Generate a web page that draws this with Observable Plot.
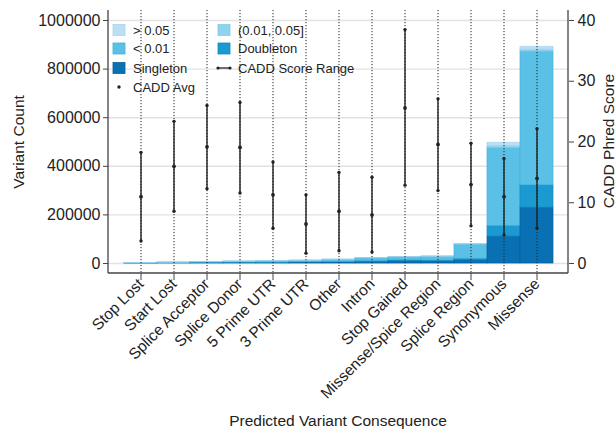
<!DOCTYPE html>
<html><head><meta charset="utf-8">
<script src="https://cdn.jsdelivr.net/npm/d3@7"></script>
<script src="https://cdn.jsdelivr.net/npm/@observablehq/plot@0.6"></script>
<style>body{margin:0;background:#fff} svg{display:block}</style>
</head><body><div id="chart"></div>
<script>
const categories = ["Stop Lost","Start Lost","Splice Acceptor","Splice Donor","5 Prime UTR","3 Prime UTR","Other","Intron","Stop Gained","Missense/Spice Region","Splice Region","Synonymous","Missense"];
const singleton = [800,1500,2800,3200,3200,4000,5000,7000,10000,9000,14000,111000,230000];
const doubleton = [300,500,900,1000,1200,1500,2000,2800,3500,3500,6000,44000,92000];
const rareLt001 = [800,1800,3000,3500,4200,6000,8400,11600,12000,15500,58000,320000,550000];
const freq001to005 = [50,100,150,150,200,250,300,300,250,500,1000,8000,8000];
const freqGt005 = [50,100,150,150,200,250,300,300,250,500,1000,14000,12000];
const caddMin = [3.7,8.6,12.3,11.6,5.8,1.7,2.1,1.9,12.9,12.0,6.2,4.7,5.8];
const caddAvg = [11.0,16.0,19.2,19.1,11.3,6.5,8.6,8.0,25.6,19.6,13.0,11.0,14.0];
const caddMax = [18.3,23.4,26.0,26.5,16.7,11.3,15.0,14.2,38.5,27.1,19.8,17.3,22.2];
const countTicks = [0,200000,400000,600000,800000,1000000];
const caddTicks = [0,10,20,30,40];
const layers = ["Singleton","Doubleton","< 0.01","(0.01, 0.05]","> 0.05"];
const layerColors = ["#0a70b4","#1b9ad2","#5bc0e6","#8fd3ef","#bcdff3"];
const layerStrokes = ["#08609c","#1589bd","#3fb3df","#7ccbea","#a9d5ee"];
const CADD_TO_COUNT = 25000; // right axis 40 <-> left axis 1,000,000

const layerArrays = [singleton,doubleton,rareLt001,freq001to005,freqGt005];
const tidy = [];
categories.forEach((c,i)=>layerArrays.forEach((arr,j)=>tidy.push({cat:c, layer:layers[j], value:arr[i]})));
const cadd = categories.map((c,i)=>({cat:c, min:caddMin[i], avg:caddAvg[i], max:caddMax[i]}));

const font = "'Liberation Sans', Arial, Helvetica, sans-serif";
const ink = "#222";
const W = 615, H = 429, mL = 108, mR = 47, mT = 10, mB = 156;

const plot = Plot.plot({
  width: W, height: H, marginLeft: mL, marginRight: mR, marginTop: mT, marginBottom: mB,
  style: {fontFamily: font, fontSize: "16px", color: ink, background: "white"},
  x: {type: "band", domain: categories, paddingInner: 0, paddingOuter: 0.29, label: null},
  y: {domain: [-41150, 1041150], label: null},
  color: {domain: layers, range: layerColors},
  marks: [
    Plot.gridY(countTicks, {stroke: "#e2e2e2", strokeOpacity: 1, strokeWidth: 1.4}),
    Plot.barY(tidy, Plot.stackY({x: "cat", y: "value", fill: "layer", order: layers,
      stroke: d => layerStrokes[layers.indexOf(d.layer)], strokeWidth: 0.7, inset: 0})),
    Plot.ruleX(categories, {stroke: ink, strokeDasharray: "1.2,1.8", strokeWidth: 1}),
    Plot.ruleX(cadd, {x: "cat", y1: d => d.min * CADD_TO_COUNT, y2: d => d.max * CADD_TO_COUNT, stroke: ink, strokeWidth: 1.4}),
    Plot.dot(cadd, {x: "cat", y: d => d.min * CADD_TO_COUNT, r: 1.7, fill: ink, stroke: "none"}),
    Plot.dot(cadd, {x: "cat", y: d => d.max * CADD_TO_COUNT, r: 1.7, fill: ink, stroke: "none"}),
    Plot.dot(cadd, {x: "cat", y: d => d.avg * CADD_TO_COUNT, r: 1.9, fill: ink, stroke: "none"}),
    Plot.axisY(countTicks, {anchor: "left", tickSize: 5, tickPadding: 3, tickFormat: d => String(d), stroke: "#444", label: null}),
    Plot.axisY(caddTicks.map(v => v * CADD_TO_COUNT), {anchor: "right", tickSize: 5, tickPadding: 4, tickFormat: d => String(d / CADD_TO_COUNT), stroke: "#444", label: null}),
    Plot.axisX({anchor: "bottom", tickRotate: -45, tickSize: 7, tickPadding: 1, fontSize: 15.5, stroke: "#444", label: null})
  ]
});

const svg = d3.select(plot);
const yB = H - mB, xL = mL, xR = W - mR;
// frame lines (left, right, bottom)
const frame = svg.append("g").attr("stroke", "#444").attr("stroke-width", 1.3);
frame.append("line").attr("x1", xL).attr("x2", xL).attr("y1", mT).attr("y2", yB);
frame.append("line").attr("x1", xR).attr("x2", xR).attr("y1", mT).attr("y2", yB);
frame.append("line").attr("x1", xL).attr("x2", xR).attr("y1", yB).attr("y2", yB);

// axis titles
svg.append("text").text("Variant Count").attr("transform", `translate(18,142) rotate(-90)`)
  .attr("text-anchor", "middle").attr("dominant-baseline", "central").attr("font-size", 15.5).attr("fill", ink).attr("font-family", font);
svg.append("text").text("CADD Phred Score").attr("transform", `translate(608,141) rotate(-90)`)
  .attr("text-anchor", "middle").attr("dominant-baseline", "central").attr("font-size", 15.5).attr("fill", ink).attr("font-family", font);
svg.append("text").text("Predicted Variant Consequence").attr("x", 338).attr("y", 420)
  .attr("text-anchor", "middle").attr("dominant-baseline", "central").attr("font-size", 15.5).attr("fill", ink).attr("font-family", font);

// legend
const legend = svg.append("g").attr("font-family", font).attr("font-size", 13).attr("fill", ink).attr("text-anchor", "start");
const items = [
  {label: "> 0.05", col: 0, row: 0, type: "sq", i: 4},
  {label: "(0.01, 0.05]", col: 1, row: 0, type: "sq", i: 3},
  {label: "< 0.01", col: 0, row: 1, type: "sq", i: 2},
  {label: "Doubleton", col: 1, row: 1, type: "sq", i: 1},
  {label: "Singleton", col: 0, row: 2, type: "sq", i: 0},
  {label: "CADD Score Range", col: 1, row: 2, type: "range"},
  {label: "CADD Avg", col: 0, row: 3, type: "dot"}
];
const colX = [113, 218], rowY = [30, 48.5, 68, 87];
items.forEach(it => {
  const x = colX[it.col], y = rowY[it.row];
  if (it.type === "sq") {
    legend.append("rect").attr("x", x).attr("y", y - 5.5).attr("width", 12).attr("height", 11)
      .attr("fill", layerColors[it.i]).attr("stroke", layerStrokes[it.i]).attr("stroke-width", 0.8);
  } else if (it.type === "range") {
    legend.append("line").attr("x1", x).attr("x2", x + 12).attr("y1", y).attr("y2", y).attr("stroke", ink).attr("stroke-width", 1.3);
    legend.append("circle").attr("cx", x).attr("cy", y).attr("r", 1.6).attr("fill", ink);
    legend.append("circle").attr("cx", x + 12).attr("cy", y).attr("r", 1.6).attr("fill", ink);
  } else {
    legend.append("circle").attr("cx", x + 6).attr("cy", y).attr("r", 1.7).attr("fill", ink);
  }
  legend.append("text").text(it.label).attr("x", x + 20).attr("y", y).attr("dominant-baseline", "central").attr("text-anchor", "start");
});

document.getElementById("chart").appendChild(plot);
</script>
</body></html>
